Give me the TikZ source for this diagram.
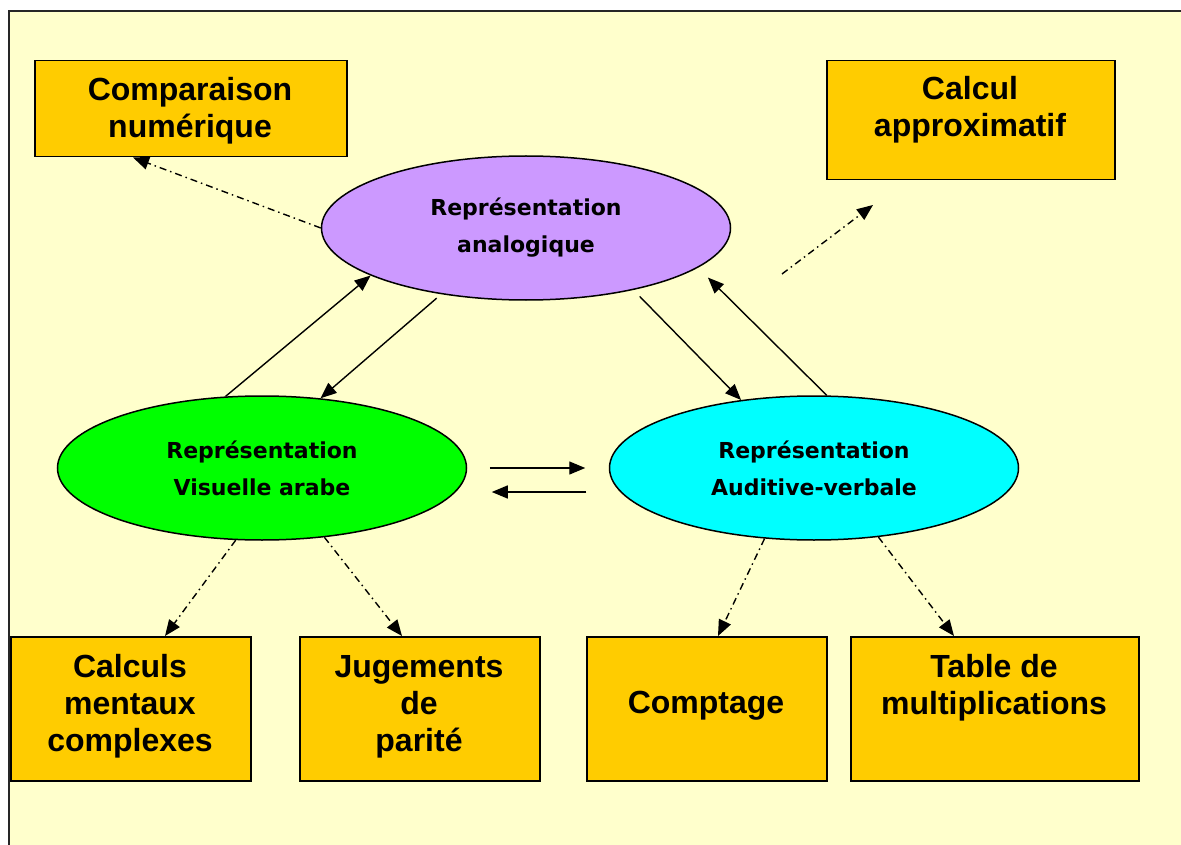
\documentclass[tikz,border=0pt]{standalone}
\usepackage{fontspec}
\setmainfont{Liberation Sans}
\newfontfamily\ellfont{DejaVu Sans}
\usetikzlibrary{shapes.geometric,arrows.meta}
\definecolor{bgyellow}{HTML}{FFFFCC}
\definecolor{boxyellow}{HTML}{FFCC00}
\definecolor{lilac}{HTML}{CC99FF}
\definecolor{vgreen}{HTML}{00FF00}
\definecolor{vcyan}{HTML}{00FFFF}
\begin{document}
\begin{tikzpicture}[x=1pt,y=-1pt,
  box/.style={draw=black, line width=1.5pt, fill=boxyellow, inner sep=0pt, anchor=north west},
  boxtext/.style={anchor=base, inner sep=0pt, font=\fontsize{32}{37}\selectfont\bfseries},
  ell/.style={ellipse, draw=black, line width=1.5pt, minimum width=409pt, minimum height=144pt, inner sep=0pt, align=center, font=\ellfont\fontsize{22}{37}\selectfont\bfseries},
  arr/.style={-{Triangle[length=16pt,width=13pt]}, line width=1.4pt},
  dd/.style={arr, dash pattern=on 7pt off 4pt on 1.5pt off 4pt}
]
\useasboundingbox (0,0) rectangle (1181,845);
\fill[white] (0,0) rectangle (1181,845);
\fill[bgyellow] (9,11) rectangle (1181,845);
\draw[line width=2pt, black!85] (9,845) -- (9,11) -- (1181,11);

% boxes
\node[box, minimum width=312pt, minimum height=96pt] (comp) at (34,60) {};
\node[box, minimum width=288pt, minimum height=119pt] (approx) at (826,60) {};
\node[box, minimum width=240pt, minimum height=144pt] (calc) at (10,636) {};
\node[box, minimum width=240pt, minimum height=144pt] (jug) at (299,636) {};
\node[box, minimum width=240pt, minimum height=144pt] (compt) at (586,636) {};
\node[box, minimum width=288pt, minimum height=144pt] (table) at (850,636) {};

\node[boxtext] (tcomp) at (190,101) {\begin{tabular}[t]{@{}c@{}}Comparaison\\numérique\end{tabular}};
\node[boxtext] (tapprox) at (970,100) {\begin{tabular}[t]{@{}c@{}}Calcul\\approximatif\end{tabular}};
\node[boxtext] (tcalc) at (130,677) {\begin{tabular}[t]{@{}c@{}}Calculs\\mentaux\\complexes\end{tabular}};
\node[boxtext] (tjug) at (419,677) {\begin{tabular}[t]{@{}c@{}}Jugements\\de\\parité\end{tabular}};
\node[boxtext] (tcompt) at (706,713) {Comptage};
\node[boxtext] (ttable) at (994,677) {\begin{tabular}[t]{@{}c@{}}Table de\\multiplications\end{tabular}};

% ellipses
\node[ell, fill=lilac] (A) at (526,228) {Représentation\\analogique};
\node[ell, fill=vgreen] (G) at (262,468) {Représentation\\Visuelle arabe};
\node[ell, fill=vcyan] (C) at (814,468) {Représentation\\Auditive-verbale};

% solid arrows
\draw[arr] (G.117.5) -- (A.197);
\draw[arr, shorten <=6pt] (A.218) -- (G.50);
\draw[arr, shorten <=9pt] (A.330) -- (C.137);
\draw[arr, shorten >=14pt] (C.80) -- (A.347);
\draw[arr, shorten <=22.5pt, shorten >=23.5pt] (G.east) -- (C.west);
\draw[arr, shorten <=22.5pt, shorten >=24.5pt] ([yshift=-24pt]C.west) -- ([yshift=-24pt]G.east);

% dash-dot arrows
\coordinate (ca1) at (782,274);
\coordinate (ca2) at (873,205);
\draw[dd] (A.west) -- ([xshift=99pt]comp.south west);
\draw[dd] (ca1) -- (ca2);
\draw[dd] (G.250) -- ([xshift=155pt]calc.north west);
\draw[dd] (G.312) -- ([xshift=103pt]jug.north west);
\draw[dd] (C.235) -- ([xshift=132pt]compt.north west);
\draw[dd] (C.313) -- ([xshift=104pt]table.north west);
\end{tikzpicture}
\end{document}
